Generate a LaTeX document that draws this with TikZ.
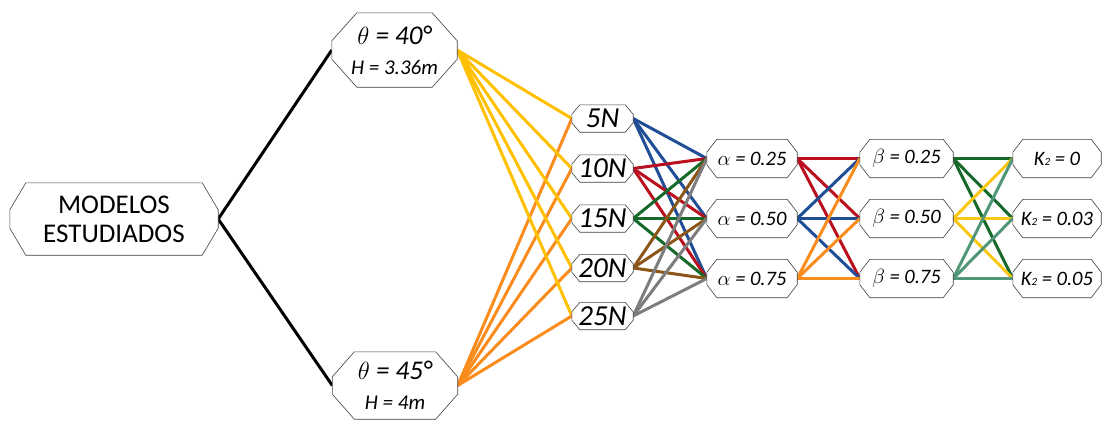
\documentclass[tikz,border=0pt]{standalone}
\usepackage{fontspec}
\setmainfont{Carlito}

\definecolor{yellowln}{RGB}{255,192,0}
\definecolor{orangeln}{RGB}{250,140,30}
\definecolor{blueln}{RGB}{31,78,150}
\definecolor{redln}{RGB}{185,15,30}
\definecolor{greenln}{RGB}{22,105,40}
\definecolor{brownln}{RGB}{140,85,25}
\definecolor{grayln}{RGB}{125,125,125}
\definecolor{goldln}{RGB}{250,200,20}
\definecolor{tealln}{RGB}{80,150,120}

\pgfdeclarelayer{lines}
\pgfdeclarelayer{boxes}
\pgfsetlayers{lines,boxes,main}

\tikzset{
  txt/.style={inner sep=0pt, align=center},
  boxline/.style={draw=black!75, fill=white, line width=0.6pt},
  link/.style={line width=3pt}
}

% octagono alrededor de un nodo: nombre, chaflan x, chaflan y
\newcommand\octbox[3]{%
  \draw[boxline] ([yshift=-#3pt]#1.north west) -- ([xshift=#2pt]#1.north west)
    -- ([xshift=-#2pt]#1.north east) -- ([yshift=-#3pt]#1.north east)
    -- ([yshift=#3pt]#1.south east) -- ([xshift=-#2pt]#1.south east)
    -- ([xshift=#2pt]#1.south west) -- ([yshift=#3pt]#1.south west) -- cycle;}

\begin{document}
\begin{tikzpicture}[x=1pt, y=-1pt]
    \useasboundingbox (0,0) rectangle (1104,421);

    % 1. nodos
    \node[txt, minimum width=208pt, minimum height=72pt, font=\fontsize{27}{29}\selectfont] (mod) at (114,219)
        {MODELOS\\ESTUDIADOS};
    \node[txt, minimum width=125pt, minimum height=74pt, font=\fontsize{27}{29}\selectfont\itshape] (t40) at (394.5,50)
        {$\theta$ = 40°\\[1pt]{\fontsize{21}{29}\selectfont H = 3.36m}};
    \node[txt, minimum width=125pt, minimum height=67pt, font=\fontsize{27}{29}\selectfont\itshape] (t45) at (395,385.5)
        {$\theta$ = 45°\\[1pt]{\fontsize{21}{29}\selectfont H = 4m}};

    % fuerzas
    \foreach \f/\y in {5/118.5, 10/168.5, 15/218.5, 20/268, 25/316}
        \node[txt, minimum width=61pt, minimum height=27pt, font=\fontsize{29}{30}\selectfont\itshape] (f\f) at (602.5,\y) {\f N};
    % alfa y beta
    \foreach \i/\v/\y in {1/0.25/158.5, 2/0.50/218.5, 3/0.75/278.5} {
        \node[txt, minimum width=90pt, minimum height=38pt, font=\fontsize{20.5}{22}\selectfont\itshape] (a\i) at (752,\y)
            {$\alpha$ = \v};
        \node[txt, minimum width=93pt, minimum height=38pt, font=\fontsize{20.5}{22}\selectfont\itshape] (b\i) at (906.5,\y)
            {$\beta$ = \v};
    }
    % K2
    \foreach \i/\v in {1/0, 2/0.03, 3/0.05}
        \node[txt, minimum width=88pt, minimum height=38pt, font=\fontsize{20.5}{22}\selectfont\itshape] (k\i) at (1057,98.5+60*\i)
            {K{\fontsize{11}{12}\selectfont 2} = \v};

    % 2. contornos
    \begin{pgfonlayer}{boxes}
        \octbox{mod}{16}{27}
        \octbox{t40}{25}{28}
        \octbox{t45}{22}{25}
        \foreach \n in {f5,f10,f15,f20,f25} {
            \octbox{\n}{8}{9.5}
        }
        \foreach \n in {a1,a2,a3,b1,b2,b3,k1,k2,k3} {
            \octbox{\n}{10}{13}
        }
    \end{pgfonlayer}

    % 3. conexiones
    \begin{pgfonlayer}{lines}
        \draw[link, black] (mod.east) -- (t40.west);
        \draw[link, black] (mod.east) -- (t45.west);
        \foreach \f in {5,10,15,20,25} {
            \draw[link, yellowln] (t40.east) -- (f\f.west);
            \draw[link, orangeln] (t45.east) -- (f\f.west);
        }
        \foreach \f/\c in {5/blueln, 10/redln, 15/greenln, 20/brownln, 25/grayln}
            \foreach \j in {1,2,3}
                \draw[link, \c] (f\f.east) -- (a\j.west);
        \foreach \i/\c in {1/redln, 2/blueln, 3/orangeln}
            \foreach \j in {1,2,3}
                \draw[link, \c] (a\i.east) -- (b\j.west);
        \foreach \i/\c in {1/greenln, 2/goldln, 3/tealln}
            \foreach \j in {1,2,3}
                \draw[link, \c] (b\i.east) -- (k\j.west);
    \end{pgfonlayer}
\end{tikzpicture}
\end{document}
